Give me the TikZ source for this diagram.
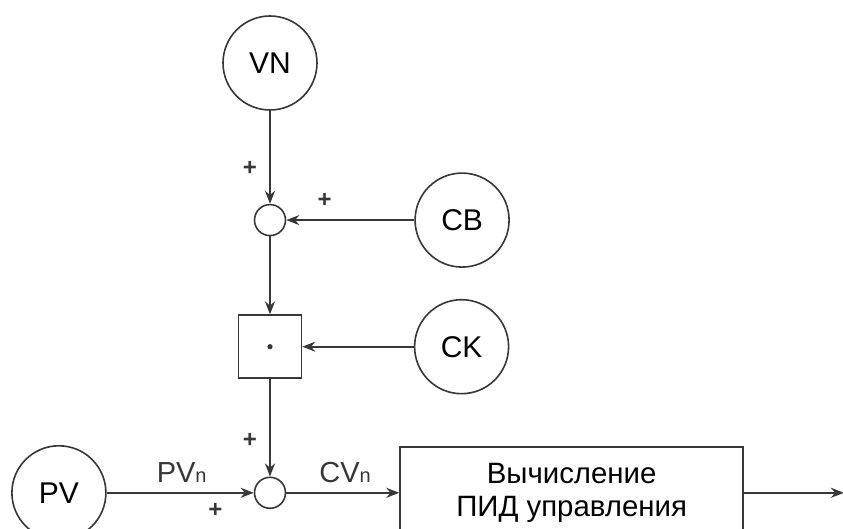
\documentclass[tikz,border=0pt]{standalone}
\usepackage{fontspec}
\setmainfont{Liberation Sans}
\usetikzlibrary{arrows.meta,positioning}
\definecolor{ink}{RGB}{55,55,55}
\tikzset{
  src/.style={circle,draw=ink,line width=0.8pt,minimum size=47pt,inner sep=0pt,
    font=\fontsize{15}{17}\selectfont},
  sumpt/.style={circle,draw=ink,line width=0.8pt,minimum size=15.5pt,inner sep=0pt},
  mulbox/.style={draw=ink,line width=0.8pt,minimum size=31.5pt,inner sep=0pt},
  blk/.style={draw=ink,line width=0.8pt,minimum width=171.5pt,minimum height=46pt,
    align=center,font=\fontsize{14.7}{16.5}\selectfont},
  arr/.style={-{Stealth[length=6.5pt,width=5pt]},line width=1pt,ink},
  sgn/.style={font=\bfseries\fontsize{12}{12}\selectfont,inner sep=1pt},
  lbl/.style={font=\fontsize{14.5}{16}\selectfont,inner sep=2pt},
}
\newcommand{\idx}[1]{{\fontsize{10}{12}\selectfont #1}}

\begin{document}
\begin{tikzpicture}
  \useasboundingbox (0,0) rectangle (421.5pt,-264.5pt);
  \node[src] (vn) at (135pt,-31.5pt) {VN};
  \node[sumpt,below=46.5pt of vn] (s1) {};
  \node[src,right=64pt of s1] (cb) {CB};
  \node[mulbox,below=39pt of s1] (mul) {};
  \fill[ink] (mul.center) circle (1.3pt);
  \node[src,right=55.75pt of mul] (ck) {CK};
  \node[sumpt,below=48.75pt of mul] (s2) {};
  \node[src,left=73.5pt of s2] (pv) {PV};
  \node[blk,right=56.5pt of s2] (pid) {Вычисление\\ПИД управления};
  \coordinate[right=50pt of pid.east] (out);
  % signal paths
  \draw[arr] (vn) -- node[sgn,pos=0.62,left=5pt]{+} (s1);
  \draw[arr] (cb) -- node[sgn,pos=0.7,above=5pt]{+} (s1);
  \draw[arr] (s1) -- (mul);
  \draw[arr] (ck) -- (mul);
  \draw[arr] (mul) -- node[sgn,pos=0.63,left=5pt]{+} (s2);
  \draw[arr] (pv) -- node[lbl,pos=0.51,above=2.5pt]{PV\idx{n}}
    node[sgn,pos=0.74,below=4pt]{+} (s2);
  \draw[arr] (s2) -- node[lbl,pos=0.52,above=2.5pt]{CV\idx{n}} (pid);
  \draw[arr] (pid) -- (out);
\end{tikzpicture}
\end{document}
